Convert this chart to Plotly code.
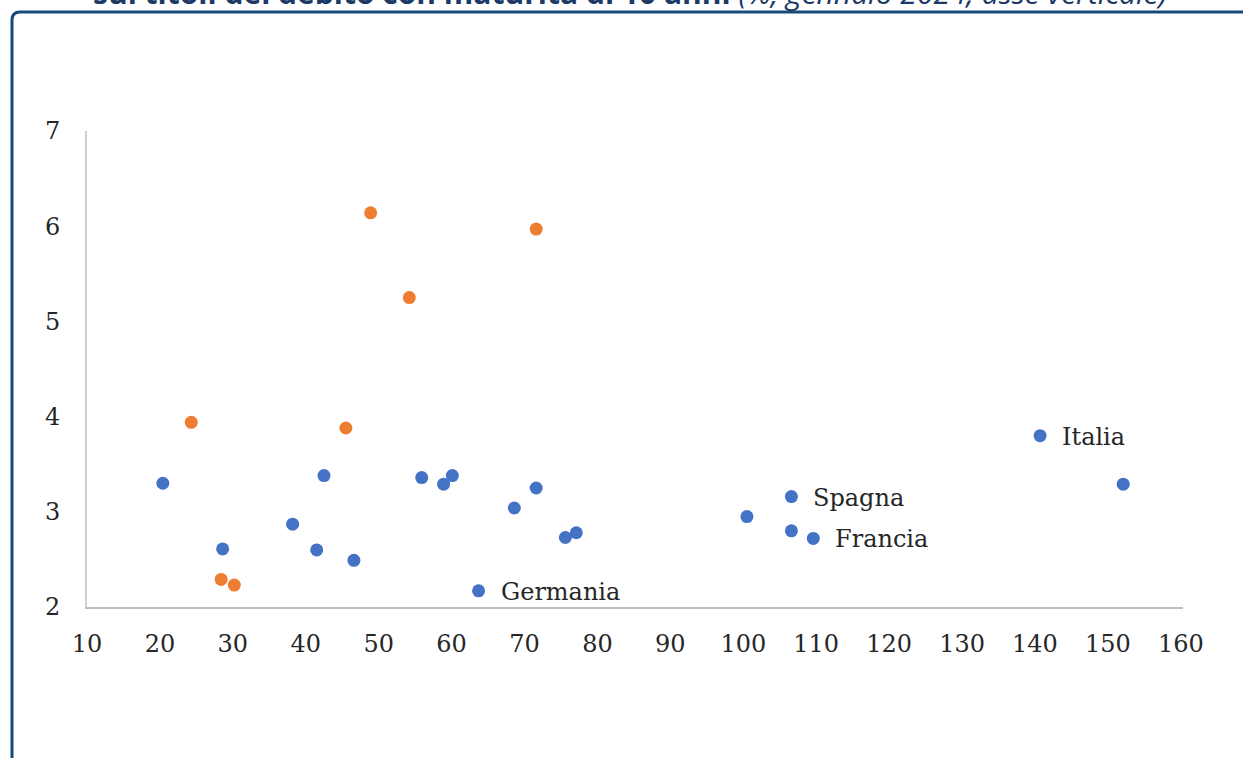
import plotly.graph_objects as go

# Data
blue_x = [20.4, 28.6, 38.2, 42.5, 41.5, 46.6, 55.9, 58.9, 60.1, 68.6, 71.6, 75.6, 77.1,
          63.7, 100.5, 106.6, 106.6, 109.6, 140.7, 152.1]
blue_y = [3.30, 2.61, 2.87, 3.38, 2.60, 2.49, 3.36, 3.29, 3.38, 3.04, 3.25, 2.73, 2.78,
          2.17, 2.95, 3.16, 2.80, 2.72, 3.80, 3.29]
orange_x = [24.3, 48.9, 71.6, 54.2, 45.5, 28.4, 30.2]
orange_y = [3.94, 6.14, 5.97, 5.25, 3.88, 2.29, 2.23]

label_names = ["Germania", "Spagna", "Francia", "Italia"]
label_x = [63.7, 106.6, 109.6, 140.7]
label_y = [2.17, 3.16, 2.72, 3.80]

x_ticks = list(range(10, 161, 10))
y_ticks = [2, 3, 4, 5, 6, 7]

title_bold = "sui titoli del debito con maturità di 10 anni"
title_ital = "(%, gennaio 2024; asse verticale)"

W, H = 1243, 758
L, R, T, B = 87, 60, 131, 151
PW, PH = W - L - R, H - T - B


def px(xp):
    return (xp - L) / PW


def py(yp):
    return 1 - (yp - T) / PH


TXT = "#262626"
SERIF = "DejaVu Serif"

fig = go.Figure()
fig.add_trace(go.Scatter(x=orange_x, y=orange_y, mode="markers",
                         marker=dict(color="#ED7D31", size=13), hoverinfo="skip"))
fig.add_trace(go.Scatter(x=blue_x, y=blue_y, mode="markers",
                         marker=dict(color="#4472C4", size=13), hoverinfo="skip"))

for n, xv, yv in zip(label_names, label_x, label_y):
    fig.add_annotation(x=xv, y=yv, xref="x", yref="y", text=n, showarrow=False,
                       xanchor="left", yanchor="middle", xshift=20, yshift=-1,
                       font=dict(family=SERIF, size=24, color=TXT))

# title partially cut at top (as in the reference)
fig.add_annotation(x=px(630), y=py(15), xref="paper", yref="paper",
                   text="<b>" + title_bold + "</b> <i>" + title_ital + "</i>",
                   showarrow=False, xanchor="center", yanchor="bottom",
                   font=dict(family="Open Sans", size=30, color="#1b3a66"))

# frame with rounded corner
x0, y0, r = 12, 12, 8
path = (f"M {px(x0)},{py(H + 20)} L {px(x0)},{py(y0 + r)} "
        f"Q {px(x0)},{py(y0)} {px(x0 + r)},{py(y0)} L {px(W + 20)},{py(y0)}")
fig.add_shape(type="path", xref="paper", yref="paper", path=path,
              line=dict(color="#174a7c", width=3))

fig.update_layout(
    width=W, height=H,
    margin=dict(l=L, r=R, t=T, b=B),
    paper_bgcolor="white", plot_bgcolor="white",
    showlegend=False,
    xaxis=dict(range=[10, 160.3], tickvals=x_ticks, showgrid=False, zeroline=False,
               showline=True, linecolor="#bfbfbf", linewidth=2,
               ticks="outside", ticklen=14, tickcolor="rgba(0,0,0,0)",
               tickfont=dict(family=SERIF, size=24, color=TXT)),
    yaxis=dict(range=[2, 7], tickvals=y_ticks, showgrid=False, zeroline=False,
               showline=True, linecolor="#d0d0d0", linewidth=2,
               ticks="outside", ticklen=20, tickcolor="rgba(0,0,0,0)",
               tickfont=dict(family=SERIF, size=24, color=TXT)),
)

fig.write_html("out.html", config={"displayModeBar": False},
               post_script="document.body.style.margin='0';")
